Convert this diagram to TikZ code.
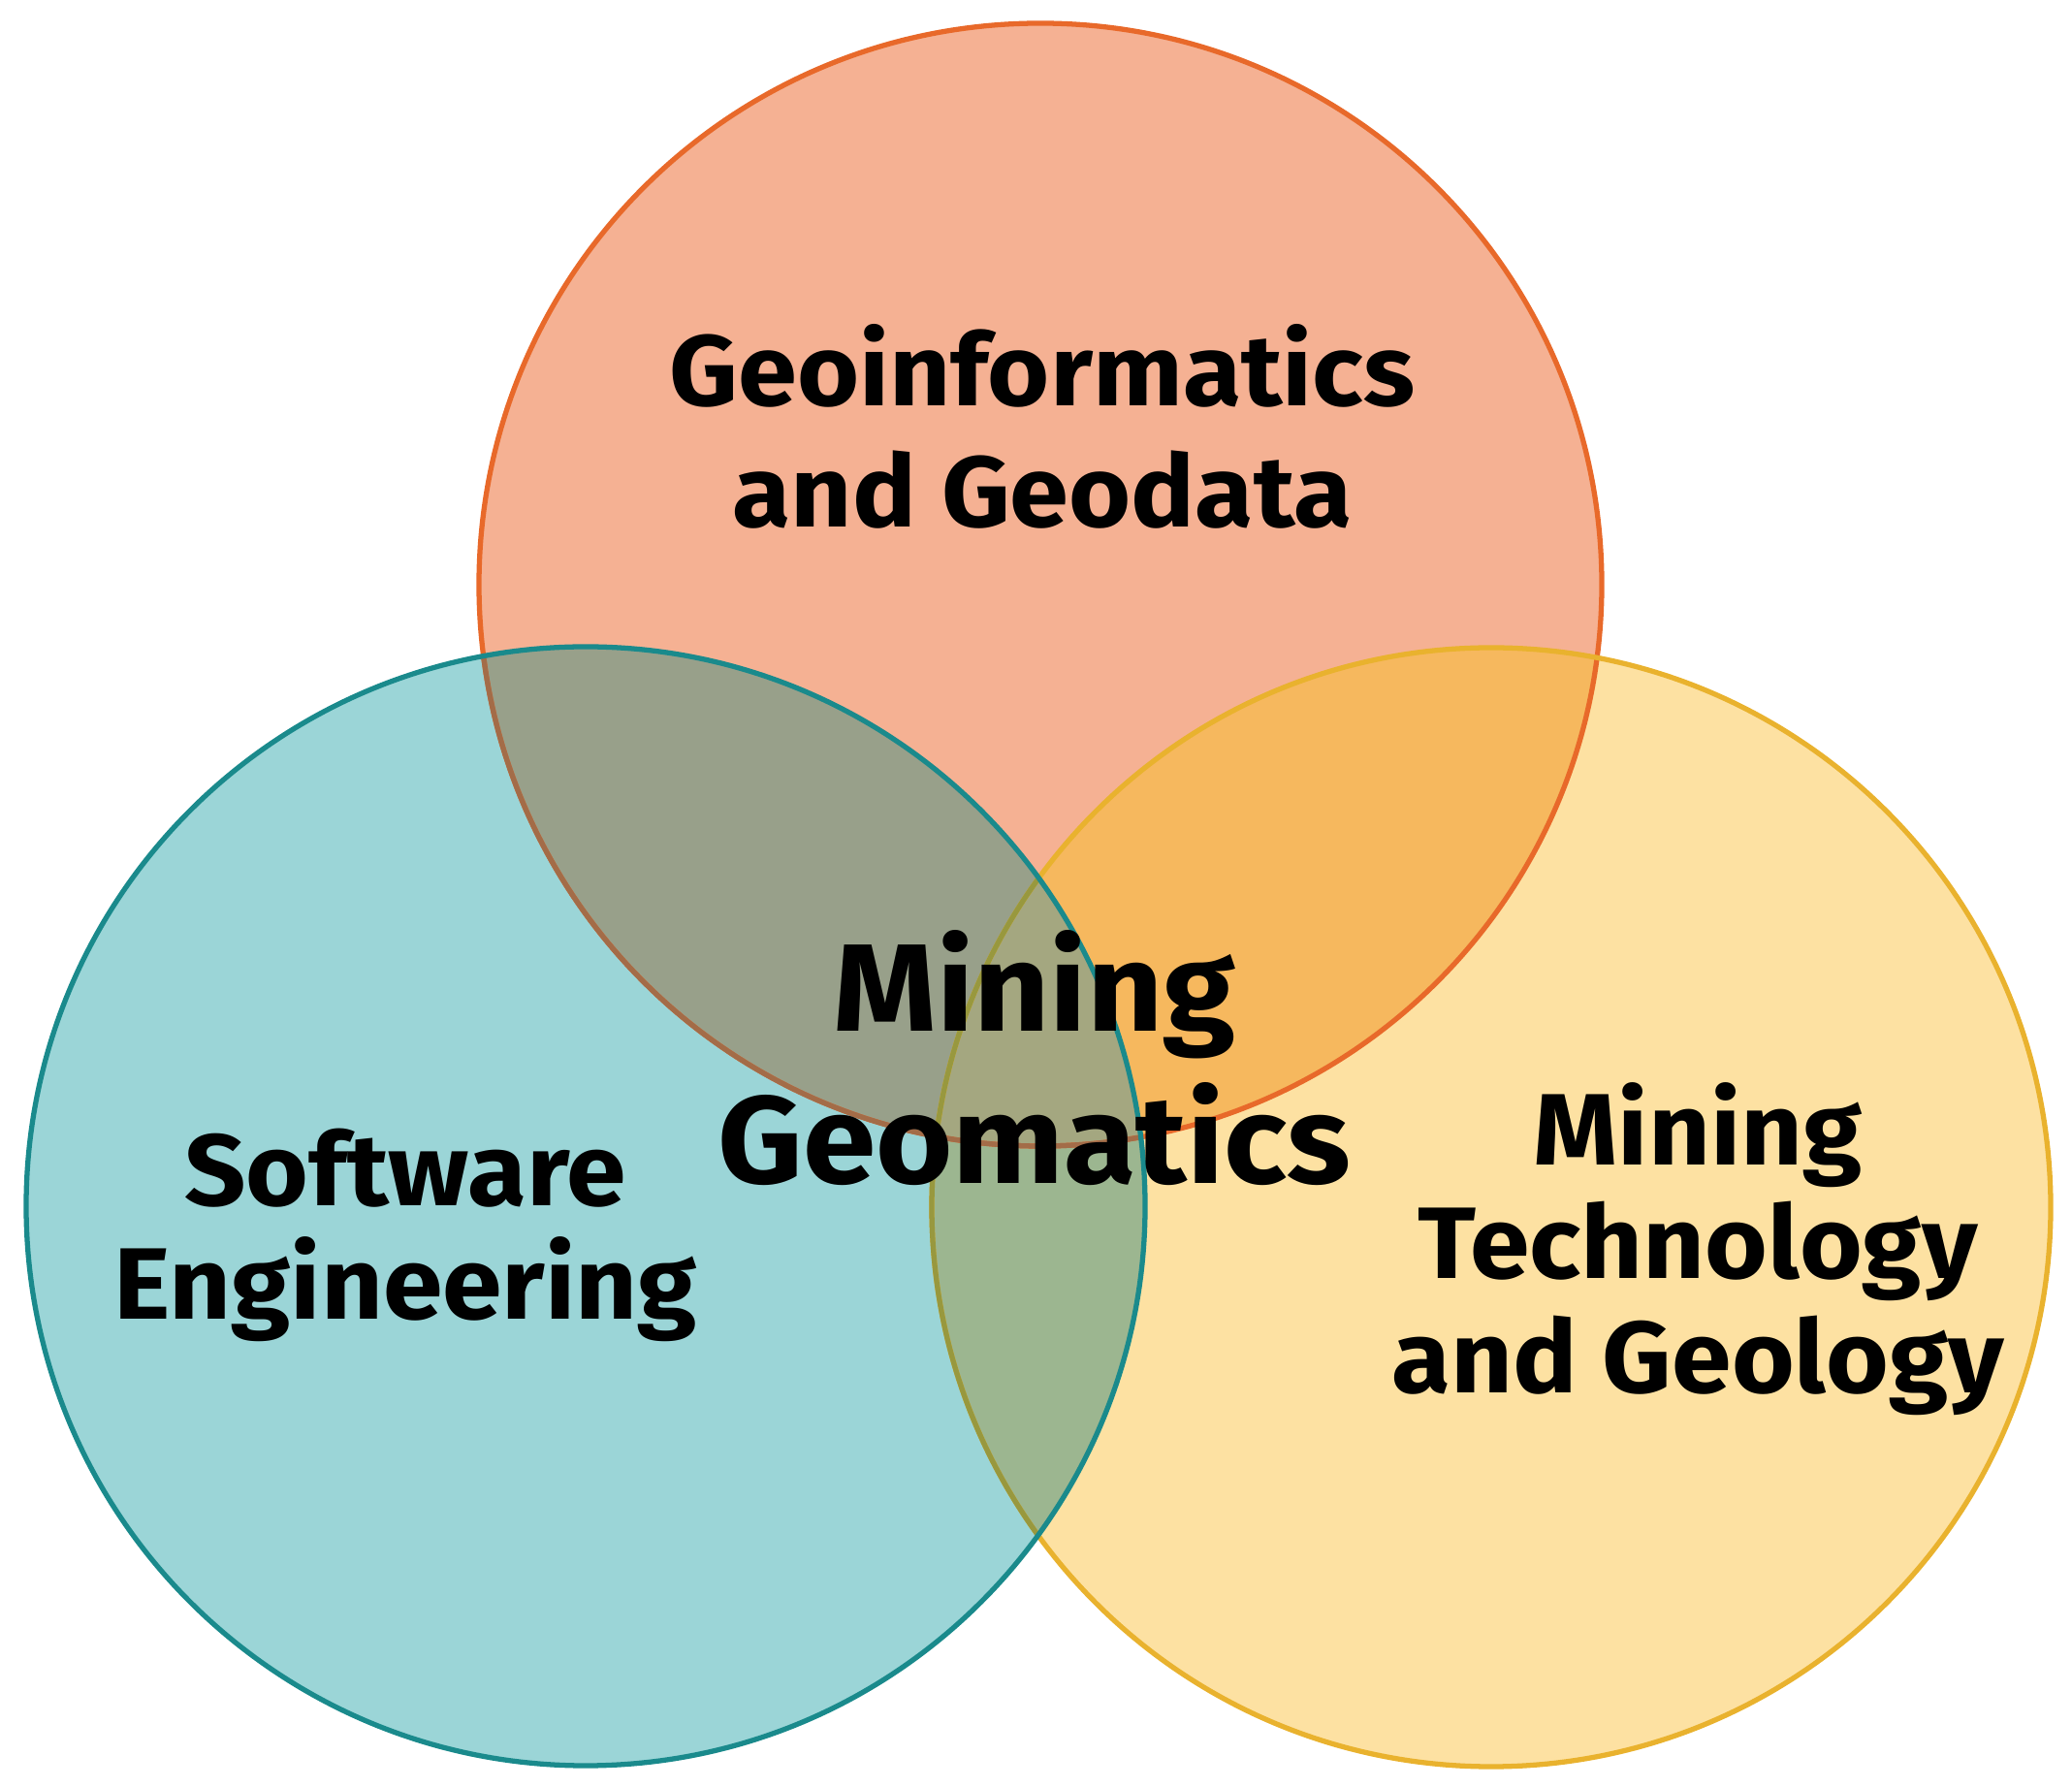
\documentclass[tikz,border=0pt]{standalone}
\usepackage{fontspec}
\setmainfont{Fira Sans}[BoldFeatures={FakeStretch=1.06}]
\usepackage{tikz}

\definecolor{geofill}{HTML}{F5B193}
\definecolor{geoline}{HTML}{E8692A}
\definecolor{softfill}{HTML}{9BD5D7}
\definecolor{softline}{HTML}{1A8A8C}
\definecolor{minefill}{HTML}{FDE1A2}
\definecolor{mineline}{HTML}{E9B22E}
\definecolor{geosoft}{HTML}{98A08A}
\definecolor{geomine}{HTML}{F6B85E}
\definecolor{softmine}{HTML}{9CB690}
\definecolor{allthree}{HTML}{A4A780}

\begin{document}
\begin{tikzpicture}[
    ring/.style={line width=1.5pt},
    toplabel/.style={align=center, font=\fontsize{29.5}{35.5}\selectfont\bfseries},
    sidelabel/.style={align=center, font=\fontsize{29.8}{33.5}\selectfont\bfseries},
    midlabel/.style={align=center, font=\fontsize{36.5}{44.5}\selectfont\bfseries}]
    \useasboundingbox (0,0) rectangle (21.37,18.42);

    \coordinate (geoc) at (10.73, 12.39);
    \coordinate (softc) at (6.04, 5.98);
    \coordinate (minec) at (15.38, 5.97);

    % Plain fills
    \fill[geofill] (geoc) circle (5.79);
    \fill[softfill] (softc) circle (5.77);
    \fill[minefill] (minec) circle (5.77);

    % Overlaps
    \begin{scope}
        \clip (geoc) circle (5.79);
        \fill[geosoft] (softc) circle (5.77);
        \fill[geomine] (minec) circle (5.77);
    \end{scope}
    \begin{scope}
        \clip (softc) circle (5.77);
        \fill[softmine] (minec) circle (5.77);
        \clip (geoc) circle (5.79);
        \fill[allthree] (minec) circle (5.77);
    \end{scope}

    % Outlines, teal one on top
    \draw[ring, geoline] (geoc) circle (5.79);
    \draw[ring, mineline] (minec) circle (5.77);
    \begin{scope}
        \clip (softc) circle (5.77);
        \draw[ring, color={rgb,255:red,163;green,108;blue,72}] (geoc) circle (5.79);
        \draw[ring, color={rgb,255:red,152;green,152;blue,62}] (minec) circle (5.77);
    \end{scope}
    \draw[ring, softline] (softc) circle (5.77);

    % Labels
    \node[toplabel] (geo) at (10.75, 14.02) {Geoinformatics\\and Geodata};
    \node[sidelabel] (soft) at (4.18, 5.68) {Software\\Engineering};
    \node[sidelabel] (mine) at (17.51, 5.54) {Mining\\Technology\\and Geology};
    \node[midlabel] (core) at (10.67, 7.51) {Mining\\Geomatics};
\end{tikzpicture}
\end{document}
